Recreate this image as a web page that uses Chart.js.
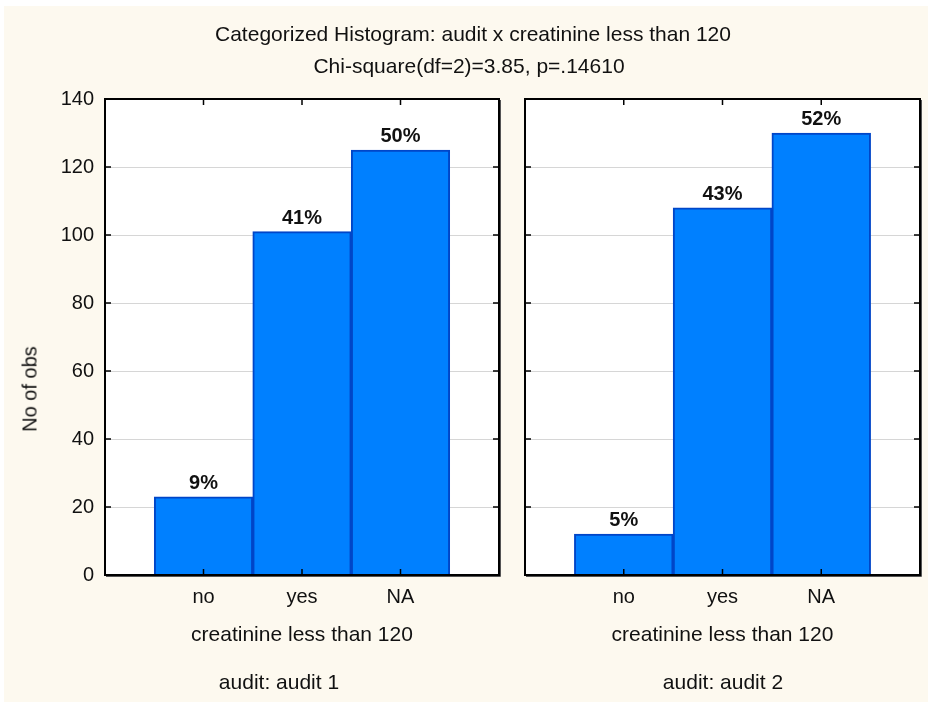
<!DOCTYPE html>
<html>
<head>
<meta charset="utf-8">
<script src="https://cdn.jsdelivr.net/npm/chart.js@4.4.1/dist/chart.umd.min.js"></script>
<style>
  html, body { margin: 0; padding: 0; background: #fff; }
  #page { position: relative; width: 928px; height: 704px; overflow: hidden; background: #fff;
          font-family: 'Liberation Sans', Arial, sans-serif; color: #111; }
  #bg { position: absolute; left: 4px; top: 6px; right: 0; bottom: 2px; background: #fdf9ef; }
  canvas { position: absolute; left: 0; top: 0; }
  .txt { position: absolute; white-space: nowrap; font-size: 21px; transform: translate(-50%, -50%); }
</style>
</head>
<body>
<div id="page">
  <div id="bg"></div>
  <canvas id="c1" width="928" height="704"></canvas>
  <canvas id="c2" width="928" height="704"></canvas>
  <div class="txt" style="left:473px; top:34px">Categorized Histogram: audit x creatinine less than 120</div>
  <div class="txt" style="left:469px; top:66px">Chi-square(df=2)=3.85, p=.14610</div>
  <div class="txt" style="left:30px; top:389px; font-size:20px; transform: translate(-50%, -50%) rotate(-90deg)">No of obs</div>
  <div class="txt" style="left:279px; top:682px">audit: audit 1</div>
  <div class="txt" style="left:723px; top:682px">audit: audit 2</div>
</div>
<script>
// data
var categories = ['no', 'yes', 'NA'];
var audit1Counts = [23, 101, 125];
var audit2Counts = [12, 108, 130];
var audit1Pct = ['9%', '41%', '50%'];
var audit2Pct = ['5%', '43%', '52%'];
var yMax = 140;
var yStep = 20;

var font = { family: "'Liberation Sans', Arial, sans-serif", size: 20 };
var titleFont = { family: "'Liberation Sans', Arial, sans-serif", size: 21 };
var textColor = '#111';

// white plot area, % labels above bars, inward ticks and the black frame
var panelPlugin = {
  id: 'panel',
  beforeDraw: function(chart) {
    var a = chart.chartArea, ctx = chart.ctx;
    ctx.save();
    ctx.fillStyle = '#fff';
    ctx.fillRect(a.left, a.top, a.width, a.height);
    ctx.restore();
  },
  afterDatasetsDraw: function(chart, args, opts) {
    var a = chart.chartArea, ctx = chart.ctx;
    var x = chart.scales.x, y = chart.scales.y;
    ctx.save();

    ctx.fillStyle = textColor;
    ctx.font = "bold 20px 'Liberation Sans', Arial, sans-serif";
    ctx.textAlign = 'center';
    ctx.textBaseline = 'alphabetic';
    chart.getDatasetMeta(0).data.forEach(function(bar, i) {
      ctx.fillText(opts.labels[i], bar.x, bar.y - 8);
    });

    ctx.strokeStyle = '#000';
    ctx.lineWidth = 1.5;
    ctx.beginPath();
    y.ticks.forEach(function(t) {
      var py = y.getPixelForValue(t.value);
      ctx.moveTo(a.left, py); ctx.lineTo(a.left + 6, py);
      ctx.moveTo(a.right - 6, py); ctx.lineTo(a.right, py);
    });
    x.ticks.forEach(function(t) {
      var px = x.getPixelForValue(t.value);
      ctx.moveTo(px, a.top); ctx.lineTo(px, a.top + 6);
      ctx.moveTo(px, a.bottom - 6); ctx.lineTo(px, a.bottom);
    });
    ctx.stroke();

    ctx.lineWidth = 2;
    ctx.strokeRect(a.left, a.top, a.width, a.height);
    ctx.strokeStyle = '#555';
    ctx.lineWidth = 1;
    ctx.beginPath();
    ctx.moveTo(a.left + 1, a.bottom + 1.5); ctx.lineTo(a.right + 1.5, a.bottom + 1.5);
    ctx.lineTo(a.right + 1.5, a.top + 1);
    ctx.stroke();
    ctx.restore();
  }
};

function makeChart(id, counts, pcts, left, padRight, showY) {
  return new Chart(document.getElementById(id), {
    type: 'bar',
    data: {
      datasets: [{
        data: counts.map(function(v, i) { return { x: i + 1, y: v }; }),
        backgroundColor: '#0080ff',
        borderColor: '#0046c8',
        borderWidth: 2,
        barPercentage: 1,
        categoryPercentage: 1
      }]
    },
    options: {
      responsive: false,
      animation: false,
      layout: { padding: { left: 0, top: 99, right: padRight, bottom: 0 } },
      plugins: {
        legend: { display: false },
        tooltip: { enabled: false },
        panel: { labels: pcts }
      },
      scales: {
        x: {
          type: 'linear',
          offset: false,
          min: 0,
          max: categories.length + 1,
          grid: { display: false, drawTicks: false },
          border: { display: false },
          afterBuildTicks: function(s) {
            s.ticks = categories.map(function(c, i) { return { value: i + 1 }; });
          },
          ticks: {
            callback: function(v) { return categories[v - 1]; },
            padding: 10,
            color: textColor,
            font: font
          },
          title: {
            display: true,
            text: 'creatinine less than 120',
            color: textColor,
            font: titleFont,
            padding: { top: 0, bottom: 56 }
          },
          afterFit: function(s) { s.height = 129; }
        },
        y: {
          min: 0,
          max: yMax,
          ticks: { stepSize: yStep, padding: 11, display: showY, color: textColor, font: font },
          grid: {
            drawTicks: false,
            color: function(c) {
              return c.tick.value > 0 && c.tick.value < yMax ? '#d6d6d6' : 'rgba(0,0,0,0)';
            }
          },
          border: { display: false },
          afterFit: function(s) { s.width = left; }
        }
      }
    },
    plugins: [panelPlugin]
  });
}

makeChart('c1', audit1Counts, audit1Pct, 105, 429, true);
makeChart('c2', audit2Counts, audit2Pct, 525, 8, false);
</script>
</body>
</html>
